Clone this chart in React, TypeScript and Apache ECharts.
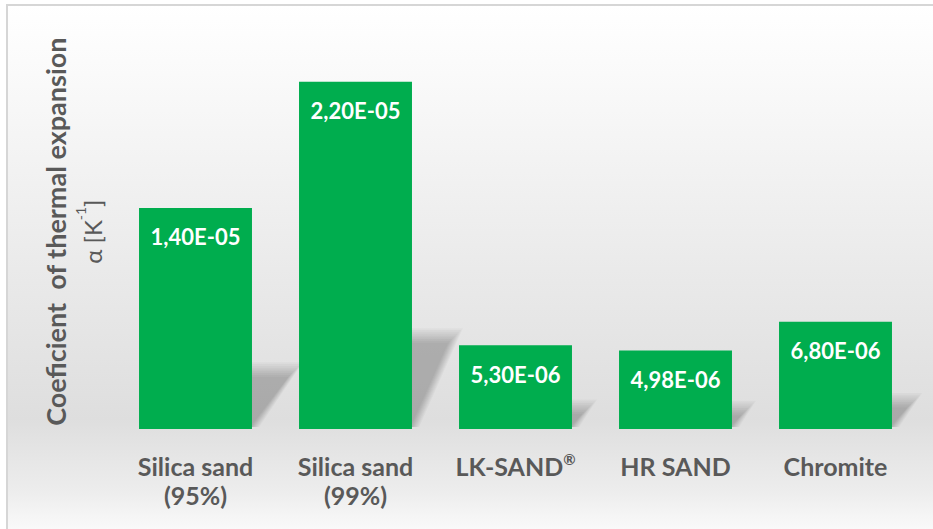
import React, { useEffect, useRef } from "react";
import * as echarts from "echarts";

const categories = ["Silica sand\n(95%)", "Silica sand\n(99%)", "LK-SAND®", "HR SAND", "Chromite"];
const values = [1.4e-5, 2.2e-5, 5.3e-6, 4.98e-6, 6.8e-6];
const yMax = 2.5e-5;
const axisTitle = "Coeficient  of thermal expansion";

const BAR_RATIO = 0.706;
const GREEN = "#00ad4e";
const TEXT = "#595959";
const FONT = "Lato, 'Open Sans', sans-serif";

function fmt(v: number): string {
  const [m, e] = v.toExponential(2).split("e");
  const sign = e.startsWith("-") ? "-" : "+";
  const digits = e.replace(/[-+]/, "").padStart(2, "0");
  return `${m.replace(".", ",")}E${sign}${digits}`;
}

export default function App() {
  const ref = useRef<HTMLDivElement>(null);
  useEffect(() => {
    if (!ref.current) return;
    const chart = echarts.init(ref.current, null, { renderer: "svg" });
    chart.setOption({
      animation: false,
      graphic: [
        {
          type: "rect",
          z: -10,
          silent: true,
          shape: { x: 7, y: 5, width: 960, height: 560 },
          style: {
            fill: new echarts.graphic.LinearGradient(0, 0, 0, 1, [
              { offset: 0, color: "#ffffff" },
              { offset: 0.1, color: "#fbfbfb" },
              { offset: 0.45, color: "#ebebeb" },
              { offset: 0.74, color: "#dedede" },
              { offset: 0.87, color: "#ededed" },
              { offset: 0.94, color: "#fafafa" },
              { offset: 1, color: "#fdfdfd" },
            ]),
            stroke: "#d6d6d6",
            lineWidth: 2,
          },
        },
      ],
      grid: { left: 115.5, right: 17.5, top: 34.3, bottom: 100, containLabel: false },
      xAxis: {
        type: "category",
        data: categories,
        axisLine: { show: false },
        axisTick: { show: false },
        axisLabel: {
          color: TEXT,
          fontFamily: FONT,
          fontWeight: "bold",
          fontSize: 25,
          lineHeight: 29,
          margin: 22,
          interval: 0,
          formatter: (v: string) => v.replace("®", "{r|®}"),
          rich: {
            r: {
              color: TEXT,
              fontFamily: FONT,
              fontWeight: "bold",
              fontSize: 15,
              verticalAlign: "top",
              lineHeight: 29,
              padding: [0, 0, 8, 0],
            },
          },
        },
      },
      yAxis: {
        type: "value",
        min: 0,
        max: yMax,
        axisLine: { show: false },
        axisTick: { show: false },
        axisLabel: { show: false },
        splitLine: { show: false },
        name: `{t|${axisTitle}}\n{a|α [K}{s|-1}{a|]}`,
        nameLocation: "middle",
        nameRotate: 90,
        nameGap: 5,
        nameTextStyle: {
          rich: {
            t: { color: TEXT, fontFamily: FONT, fontWeight: "bold", fontSize: 27, lineHeight: 37 },
            a: { color: TEXT, fontFamily: FONT, fontSize: 24, lineHeight: 37 },
            s: { color: TEXT, fontFamily: FONT, fontSize: 14, lineHeight: 37, verticalAlign: "top", padding: [0, 0, 12, 0] },
          },
        },
      },
      series: [
        {
          type: "custom",
          z: 1,
          silent: true,
          data: values.map((v, i) => [i, v]),
          renderItem: (params: any, api: any) => {
            const idx = api.value(0);
            const v = api.value(1);
            const base = api.coord([idx, 0]);
            const top = api.coord([idx, v]);
            const band = api.size([1, 0])[0];
            const w = band * BAR_RATIO;
            const xL = base[0] - w / 2;
            const xR = base[0] + w / 2;
            const h = base[1] - top[1];
            const sh = h * 0.27;
            const dx = Math.min(sh * 0.8, 44);
            const layers = 9;
            const children = [];
            const yb = base[1] - 2;
            for (let k = 0; k < layers; k++) {
              const inset = (layers - 1 - k) * 1.8 - 7;
              const yt = Math.min(base[1] - sh + inset, yb - 2);
              children.push({
                type: "polygon",
                shape: {
                  points: [
                    [xL, yb],
                    [xR + 3 - inset * 0.6, yb],
                    [xR + dx - inset, yt],
                    [xL + dx, yt],
                  ],
                },
                style: { fill: "rgba(0,0,0,0.028)" },
              });
            }
            return { type: "group", children };
          },
        },
        {
          type: "bar",
          z: 2,
          data: values,
          barWidth: `${BAR_RATIO * 100}%`,
          itemStyle: { color: GREEN },
          label: {
            show: true,
            position: "insideTop",
            distance: 18,
            color: "#ffffff",
            fontFamily: FONT,
            fontWeight: "bold",
            fontSize: 22,
            formatter: (p: any) => fmt(p.value),
          },
        },
      ],
    });
    return () => chart.dispose();
  }, []);
  return (
    <div
      ref={ref}
      style={{ position: "absolute", left: 0, top: 0, width: 933, height: 529 }}
    />
  );
}
